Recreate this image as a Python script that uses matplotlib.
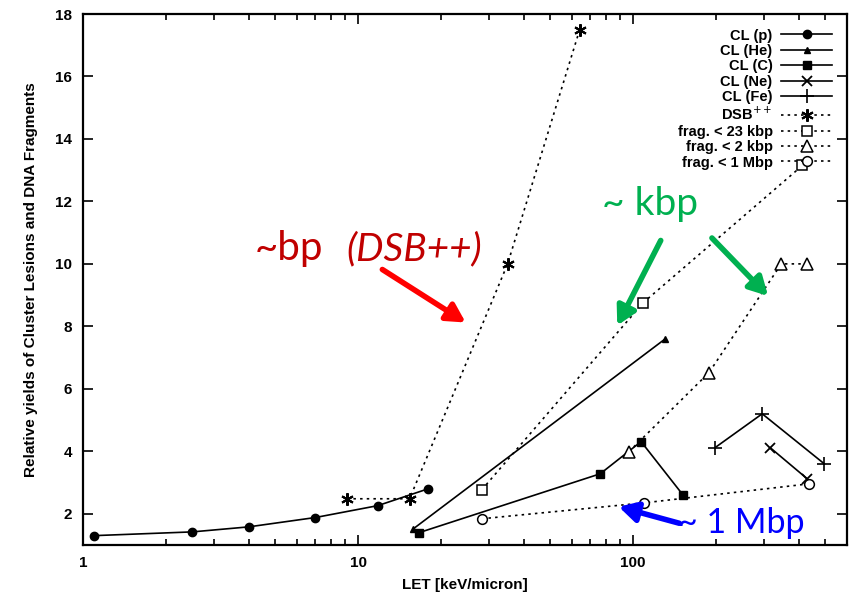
import numpy as np
import matplotlib
matplotlib.use('Agg')
from matplotlib import pyplot as plt
from matplotlib.ticker import FixedLocator, NullFormatter, LogLocator

# LET values and relative yields
p_let = [1.1, 2.5, 4.0, 7.0, 11.8, 18.0]
p_yield = [1.3, 1.42, 1.58, 1.88, 2.26, 2.8]

he_let = [15.9, 131]
he_yield = [1.52, 7.6]

c_let = [16.6, 76, 107, 152]
c_yield = [1.39, 3.28, 4.31, 2.6]

ne_let = [316, 430]
ne_yield = [4.11, 3.12]

fe_let = [199, 295, 496]
fe_yield = [4.12, 5.2, 3.6]

dsb_let = [9.1, 15.4, 35, 64]
dsb_yield = [2.48, 2.48, 10.0, 17.5]

f23k_let = [28.2, 109, 413]
f23k_yield = [2.77, 8.76, 13.15]

f2k_let = [96.7, 189, 346, 430]
f2k_yield = [3.99, 6.52, 10.0, 10.0]

f1m_let = [28.2, 110, 438]
f1m_yield = [1.84, 2.35, 2.96]

W, H = 851, 596
fig = plt.figure(figsize=(W / 100, H / 100), dpi=100)
ax = fig.add_axes([83 / W, 1 - 545 / H, (847 - 83) / W, (545 - 14) / H])

tick_font = dict(family='Liberation Sans', size=11, weight='bold')
solid = dict(color='black', lw=1.2)
dotted = dict(color='black', lw=1.2, ls=(0, (1.5, 2.5)))

ax.plot(p_let, p_yield, marker='o', ms=6, label='CL (p)', **solid)
ax.plot(he_let, he_yield, marker='^', ms=5, label='CL (He)', **solid)
ax.plot(c_let, c_yield, marker='s', ms=6, label='CL (C)', **solid)
ax.plot(ne_let, ne_yield, marker='x', ms=7, mew=1.3, label='CL (Ne)', **solid)
ax.plot(fe_let, fe_yield, marker='+', ms=10, mew=1.2, label='CL (Fe)', **solid)
ax.plot(dsb_let, dsb_yield, marker=(6, 2, 0), ms=9, mew=1.5,
        label='DSB$^{++}$', **dotted)
ax.plot(f23k_let, f23k_yield, marker='s', ms=7, mfc='white', mew=1.1,
        label='frag. < 23 kbp', **dotted)
ax.plot(f2k_let, f2k_yield, marker='^', ms=8, mfc='white', mew=1.1,
        label='frag. < 2 kbp', **dotted)
ax.plot(f1m_let, f1m_yield, marker='o', ms=7, mfc='white', mew=1.1,
        label='frag. < 1 Mbp', **dotted)

ax.set_xscale('log')
ax.set_xlim(1, 600)
ax.set_ylim(1, 18)
ax.xaxis.set_major_locator(FixedLocator([1, 10, 100]))
ax.xaxis.set_minor_locator(LogLocator(base=10, subs=np.arange(2, 10)))
ax.xaxis.set_minor_formatter(NullFormatter())
ax.set_xticklabels(['1', '10', '100'], **tick_font)
ax.set_yticks(np.arange(2, 19, 2))
ax.set_yticklabels([str(v) for v in range(2, 19, 2)], **tick_font)
ax.tick_params(which='both', direction='in', top=True, right=True, width=1.2)
ax.tick_params(which='major', length=7, pad=8)
ax.tick_params(which='minor', length=4)
for s in ax.spines.values():
    s.set_linewidth(1.6)

ax.set_xlabel('LET [keV/micron]', family='Liberation Sans', size=11,
              weight='bold', labelpad=6)
ax.set_ylabel('Relative yields of Cluster Lesions and DNA Fragments',
              family='Liberation Sans', size=11, weight='bold', labelpad=12)

ax.legend(loc='upper right', frameon=False, markerfirst=False,
          prop=dict(family='Liberation Sans', size=10.5, weight='bold'),
          labelspacing=0.1, handlelength=3.5, handletextpad=0.6,
          borderaxespad=0.6)


# annotations are placed in picture pixels (origin top-left)
def px(x, y):
    return (x / W, 1 - y / H)


def arrow(start, end, colour):
    ax.annotate('', xy=px(*end), xytext=px(*start), xycoords='figure fraction',
                textcoords='figure fraction',
                arrowprops=dict(arrowstyle='-|>,head_length=1.1,head_width=0.6',
                                color=colour, lw=4))


note_font = ['Lato', 'DejaVu Sans']
red = '#c00000'
fig.text(*px(255, 260), '~bp', color=red, size=29, family=note_font)
fig.text(*px(346, 260), '(DSB++)', color=red, size=28, style='italic',
         family=note_font)
arrow((380, 268), (468, 324), '#ff0000')

green = '#00b050'
fig.text(*px(602, 215), '~ kbp', color=green, size=28, family=note_font)
arrow((662, 238), (616, 328), green)
arrow((710, 236), (770, 298), green)

blue = '#0000ff'
fig.text(*px(678, 533), '~ 1 Mbp', color=blue, size=24.5, family=note_font)
arrow((682, 524), (616, 506), blue)

fig.savefig('out.png', dpi=100)
